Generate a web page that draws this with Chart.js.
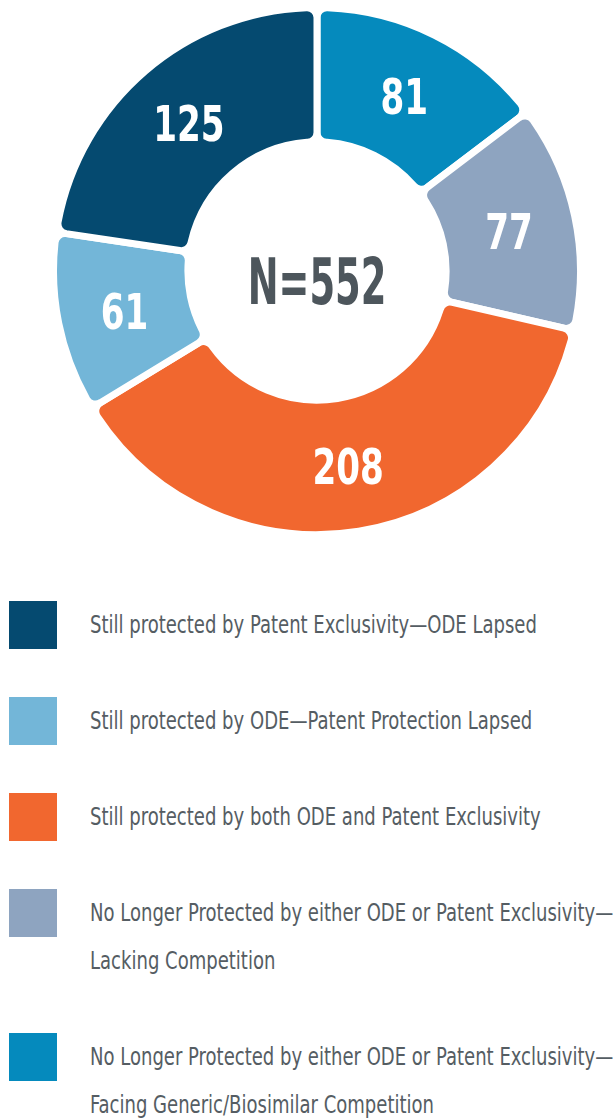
<!DOCTYPE html>
<html>
<head>
<meta charset="utf-8">
<script src="https://cdn.jsdelivr.net/npm/chart.js@4/dist/chart.umd.min.js"></script>
<style>
  body { margin: 0; background: #fff; width: 613px; height: 1118px; overflow: hidden; position: relative; }
  #chartBox { position: absolute; left: 50px; top: 4px; width: 534px; height: 534px; }
  #legend { position: absolute; left: 0; top: 601px; width: 613px; }
  .row { position: relative; margin-bottom: 48px; }
  .swatch { position: absolute; left: 9px; top: 0; width: 48px; height: 48px; }
  .txt { margin-left: 90px; font-family: "DejaVu Sans Condensed", "DejaVu Sans", sans-serif; font-stretch: condensed;
         font-size: 24px; line-height: 48px; color: #555d63; white-space: nowrap;
         transform: scaleX(0.835); transform-origin: 0 0; }
</style>
</head>
<body>
<div id="chartBox"><canvas id="donut" width="534" height="534"></canvas></div>
<div id="legend"></div>
<script>
// legend order (top to bottom)
const labels = [
  ['Still protected by Patent Exclusivity\u2014ODE Lapsed'],
  ['Still protected by ODE\u2014Patent Protection Lapsed'],
  ['Still protected by both ODE and Patent Exclusivity'],
  ['No Longer Protected by either ODE or Patent Exclusivity\u2014', 'Lacking Competition'],
  ['No Longer Protected by either ODE or Patent Exclusivity\u2014', 'Facing Generic/Biosimilar Competition']
];
const counts = [125, 61, 208, 77, 81];
const colors = ['#054a70', '#73b6d8', '#f1672f', '#8ea4c0', '#058abd'];

// the ring runs clockwise from the top in reverse legend order
const ringLabels = labels.slice().reverse().map(l => l.join(' '));
const ringCounts = counts.slice().reverse();
const ringColors = colors.slice().reverse();

const total = counts.reduce((a, b) => a + b, 0);

const condensed = '"DejaVu Sans Condensed", "DejaVu Sans", sans-serif';

const sliceLabels = {
  id: 'sliceLabels',
  afterDatasetsDraw(chart) {
    const ctx = chart.ctx;
    const meta = chart.getDatasetMeta(0);
    ctx.save();
    ctx.textAlign = 'center';
    ctx.textBaseline = 'middle';
    ctx.fillStyle = '#fff';
    ctx.font = 'bold 50px ' + condensed;
    meta.data.forEach((arc, i) => {
      const p = arc.tooltipPosition();
      ctx.save();
      ctx.translate(p.x, p.y + 6);
      ctx.scale(0.76, 1);
      ctx.fillText(String(ringCounts[i]), 0, 0);
      ctx.restore();
    });
    // centre total
    const a = meta.data[0];
    ctx.fillStyle = '#4d565c';
    ctx.font = 'bold 64px ' + condensed;
    ctx.translate(a.x, a.y + 16);
    ctx.scale(0.64, 1);
    ctx.fillText('N=' + total, 0, 0);
    ctx.restore();
  }
};

new Chart(document.getElementById('donut'), {
  type: 'doughnut',
  data: {
    labels: ringLabels,
    datasets: [{
      data: ringCounts,
      backgroundColor: ringColors,
      borderColor: '#fff',
      borderWidth: 7,
      borderRadius: 10
    }]
  },
  options: {
    responsive: false,
    animation: false,
    cutout: '49%',
    layout: { padding: 0 },
    plugins: { legend: { display: false }, tooltip: { enabled: false } }
  },
  plugins: [sliceLabels]
});

// html legend
const legendEl = document.getElementById('legend');
labels.forEach((lines, i) => {
  const row = document.createElement('div');
  row.className = 'row';
  const sw = document.createElement('div');
  sw.className = 'swatch';
  sw.style.background = colors[i];
  const t = document.createElement('div');
  t.className = 'txt';
  t.innerHTML = lines.join('<br>');
  row.appendChild(sw);
  row.appendChild(t);
  legendEl.appendChild(row);
});
</script>
</body>
</html>
